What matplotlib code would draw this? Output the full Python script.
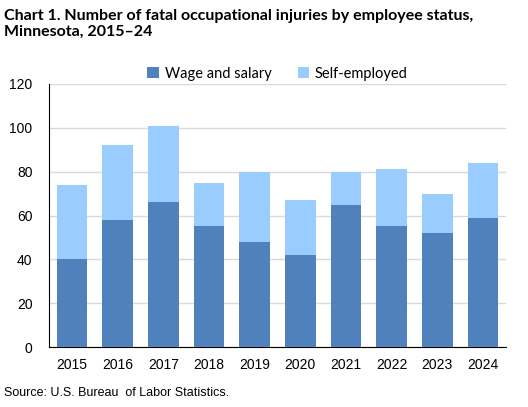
import matplotlib
matplotlib.use("Agg")
import matplotlib.pyplot as plt
import numpy as np

# Datos
years = ["2015", "2016", "2017", "2018", "2019", "2020", "2021", "2022", "2023", "2024"]
wage_salary = [40, 58, 66, 55, 48, 42, 65, 55, 52, 59]
self_employed = [34, 34, 35, 20, 32, 25, 15, 26, 18, 25]

fig = plt.figure(figsize=(5.28, 4.07), dpi=100)
ax = fig.add_axes([0.093, 0.147, 0.865, 0.647])

x = np.arange(len(years))
ax.bar(x, wage_salary, width=0.67, color="#4F81BD", label="Wage and salary", zorder=3)
ax.bar(x, self_employed, width=0.67, bottom=wage_salary, color="#99CCFF",
       label="Self-employed", zorder=3)

ax.set_xlim(-0.5, len(years) - 0.5)
ax.set_ylim(0, 120)
ax.set_yticks(range(0, 121, 20))
ax.set_xticks(x)
ax.set_xticklabels(years)
ax.tick_params(length=0, labelsize=10, pad=8)
for lbl in ax.get_xticklabels() + ax.get_yticklabels():
    lbl.set_family("Liberation Sans")
ax.tick_params(axis="y", pad=12)
ax.grid(axis="y", color="#D9D9D9", linewidth=1, zorder=0)
ax.spines["top"].set_visible(False)
ax.spines["right"].set_visible(False)
ax.spines["left"].set_color("black")
ax.spines["bottom"].set_color("black")

leg = ax.legend(loc="lower center", bbox_to_anchor=(0.5, 1.0), ncol=2, frameon=False,
                handlelength=0.8, handleheight=0.8, handletextpad=0.4, columnspacing=1.8,
                prop={"family": "Lato", "size": 10.5}, borderaxespad=-0.2)

fig.text(0.008, 0.978, "Chart 1. Number of fatal occupational injuries by employee status,\nMinnesota, 2015–24",
         ha="left", va="top", fontsize=11.5, fontweight="bold", family="Lato", linespacing=1.15)
fig.text(0.008, 0.02, "Source: U.S. Bureau  of Labor Statistics.", ha="left", va="bottom",
         fontsize=9, family="Liberation Sans")

fig.savefig("out.png", dpi=100)
